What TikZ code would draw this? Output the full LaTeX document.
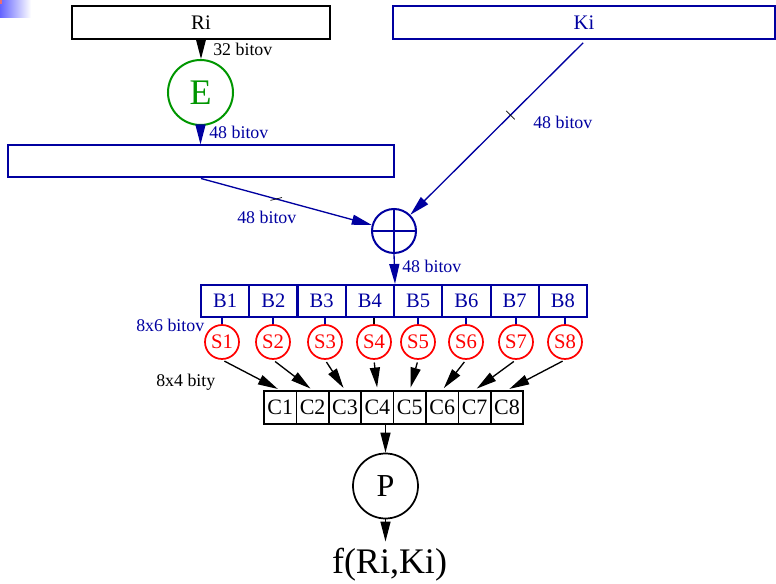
\documentclass[tikz,border=0pt]{standalone}
\usepackage{fontspec}
\setmainfont{Liberation Serif}
\usetikzlibrary{arrows.meta,calc}
\definecolor{dblue}{RGB}{0,0,160}
\definecolor{dgreen}{RGB}{0,150,0}
\definecolor{sred}{RGB}{255,0,0}
\definecolor{gblue}{RGB}{100,100,255}
\definecolor{gred}{RGB}{235,110,110}
\begin{document}
\begin{tikzpicture}[x=0.75pt,y=-0.75pt,
  box/.style={draw, line width=1.5pt, inner sep=0pt, minimum height=24.75pt},
  bbox/.style={draw=dblue, text=dblue, line width=1.5pt, inner sep=0pt,
    minimum width=36.19pt, minimum height=24pt, font=\fontsize{15.4}{15.4}\selectfont},
  cbox/.style={draw=black, line width=1.2pt, inner sep=0pt,
    minimum width=24.3pt, minimum height=24.75pt, font=\fontsize{16.5}{16.5}\selectfont},
  sbox/.style={circle, draw=sred, text=sred, line width=1.3pt, inner sep=0pt,
    minimum size=25.5pt, font=\fontsize{15.5}{15.5}\selectfont},
  lab/.style={anchor=base west, inner sep=0pt, font=\fontsize{13.4}{13.4}\selectfont},
  arr/.style={line width=1pt, -{Triangle[length=15pt,width=7.5pt]}},
  conn/.style={line width=1pt},
  tickmark/.style={inner sep=0pt, minimum width=9pt, minimum height=0pt, draw=black, line width=0.5pt}
]
\useasboundingbox (0,0) rectangle (776,584);
% corner artefact
\shade[left color=gblue, right color=white] (0,0) rectangle (31,18);
\fill[gred] (0,0) rectangle (2,4);

% top boxes
\node[box, minimum width=193.5pt, font=\fontsize{15.5}{15.5}\selectfont] (Ri) at (201,22.5) {Ri};
\node[box, draw=dblue, text=dblue, minimum width=286.5pt, font=\fontsize{15.5}{15.5}\selectfont] (Ki) at (584,22.5) {Ki};
\node[circle, draw=dgreen, text=dgreen, line width=1.5pt, inner sep=0pt, minimum size=48.75pt,
  font=\fontsize{27}{27}\selectfont] (E) at (200.5,92.5) {E};
\node[box, draw=dblue, minimum width=289.5pt, minimum height=24pt] (X48) at (201,161.5) {};

% xor
\node[circle, draw=dblue, line width=1.5pt, inner sep=0pt, minimum size=33pt] (XOR) at (394,231) {};
\draw[dblue, line width=1.5pt] (XOR.north) -- (XOR.south) (XOR.west) -- (XOR.east);

% B boxes
\foreach \i in {1,...,8}{
  \node[bbox] (B\i) at ({201+48.25*(\i-0.5)},301) {B\i};
}
% S boxes
\foreach \i/\xx in {1/222,2/273,3/325,4/374,5/418,6/466,7/516,8/565}{
  \node[sbox] (S\i) at (\xx,342) {S\i};
}
% C boxes
\foreach \i in {1,...,8}{
  \node[cbox] (C\i) at ({264+32.4*(\i-0.5)},407.5) {C\i};
}
\node[circle, draw, line width=1.3pt, inner sep=0pt, minimum size=48.75pt,
  font=\fontsize{24}{24}\selectfont] (P) at (385.5,486) {P};
\node[inner sep=0pt, font=\fontsize{27}{27}\selectfont] (f) at (389.5,565) {f(Ri,Ki)};

% connectors
\draw[arr] (Ri.south) -- (Ri.south |- E.north);
\node[lab] at (213,56) {32 bitov};
\draw[arr, dblue] (E.south) -- (E.south |- X48.north);
\node[lab, text=dblue] at (209,139) {48 bitov};

\draw[arr, dblue] (X48.south) -- (XOR) node[pos=0.44, tickmark, rotate=14]{};
\node[lab, text=dblue] at (237,224) {48 bitov};
\draw[arr, dblue, shorten <=3pt] (Ki.south) ++(2,0) -- (XOR) node[pos=0.43, tickmark, rotate=-45]{};
\node[lab, text=dblue] at (533,129) {48 bitov};

\draw[arr, dblue] (XOR.south) -- (B4.north east);
\node[lab, text=dblue] at (402,273) {48 bitov};

\node[lab, text=dblue] at (136,332) {8x6 bitov};
\foreach \i in {1,2,3,5,6,7,8}{
  \draw[conn, dblue] (S\i.north) -- (S\i.north |- B\i.south);
}
\draw[conn] (S4.north) -- (S4.north |- B4.south);

\node[lab] at (156,387) {8x4 bity};
\foreach \i in {1,...,8}{
  \draw[arr, shorten <=2pt, shorten >=2pt] (S\i.south) -- (C\i.north);
}

\coordinate (pc) at (P.north |- C4.south);
\draw[arr] (pc) -- (P.north);
\draw[arr, shorten >=5pt] (P.south) -- (P.south |- f.north);
\end{tikzpicture}
\end{document}
